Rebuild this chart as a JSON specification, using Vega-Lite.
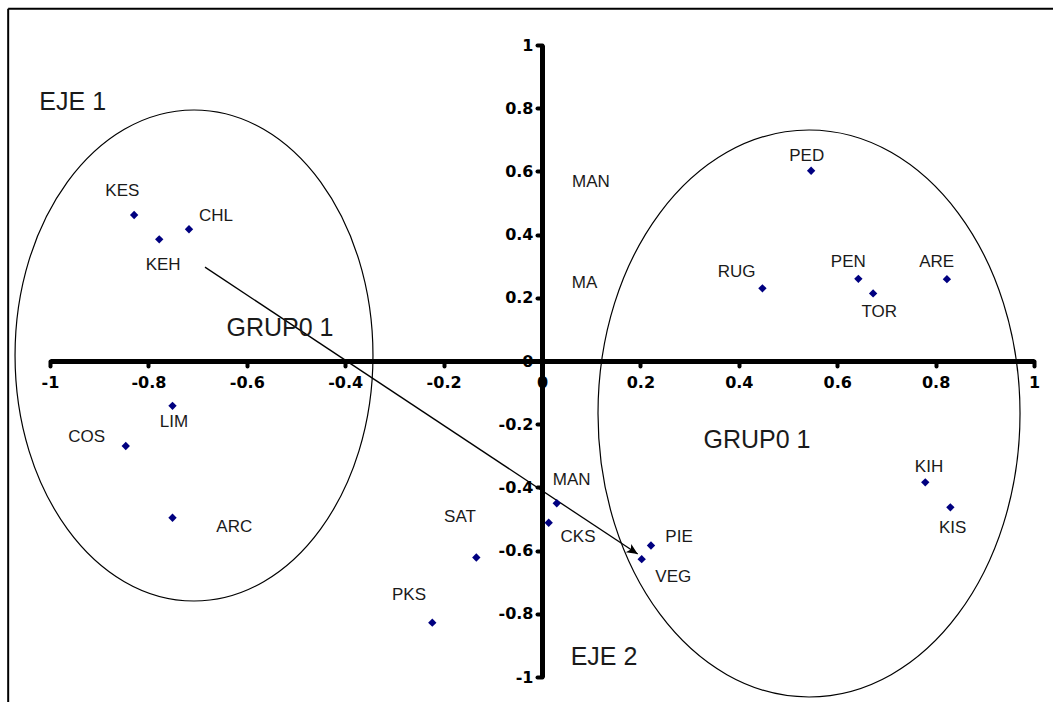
{
  "$schema": "https://vega.github.io/schema/vega-lite/v6.json",
  "width": 984,
  "height": 632,
  "autosize": {"type": "none"},
  "padding": {"left": 50, "top": 45, "right": 19, "bottom": 25},
  "background": "white",
  "config": {"view": {"stroke": null}, "font": "Liberation Sans", "axis": {"labelFontSize": 16, "labelFont": "DejaVu Sans", "labelFontWeight": "bold"}},
  "datasets": {
    "points": [
      {"name": "KES", "x": -0.829, "y": 0.462},
      {"name": "KEH", "x": -0.778, "y": 0.385},
      {"name": "CHL", "x": -0.7175, "y": 0.417},
      {"name": "LIM", "x": -0.751, "y": -0.142},
      {"name": "COS", "x": -0.846, "y": -0.269},
      {"name": "ARC", "x": -0.751, "y": -0.496},
      {"name": "SAT", "x": -0.1335, "y": -0.622},
      {"name": "PKS", "x": -0.223, "y": -0.828},
      {"name": "MAN", "x": 0.03, "y": -0.45},
      {"name": "CKS", "x": 0.0136, "y": -0.512},
      {"name": "PIE", "x": 0.2215, "y": -0.584},
      {"name": "VEG", "x": 0.2026, "y": -0.627},
      {"name": "PED", "x": 0.547, "y": 0.602},
      {"name": "RUG", "x": 0.448, "y": 0.23},
      {"name": "PEN", "x": 0.643, "y": 0.26},
      {"name": "TOR", "x": 0.673, "y": 0.214},
      {"name": "ARE", "x": 0.823, "y": 0.259},
      {"name": "KIH", "x": 0.779, "y": -0.384},
      {"name": "KIS", "x": 0.83, "y": -0.463}
    ],
    "labels": [
      {"text": "KES", "x": -0.853, "y": 0.539},
      {"text": "KEH", "x": -0.77, "y": 0.304},
      {"text": "CHL", "x": -0.6626, "y": 0.459},
      {"text": "LIM", "x": -0.748, "y": -0.192},
      {"text": "COS", "x": -0.9254, "y": -0.2396},
      {"text": "ARC", "x": -0.6254, "y": -0.5263},
      {"text": "SAT", "x": -0.1667, "y": -0.4946},
      {"text": "PKS", "x": -0.2703, "y": -0.7405},
      {"text": "MAN", "x": 0.0604, "y": -0.3766},
      {"text": "CKS", "x": 0.0732, "y": -0.558},
      {"text": "PIE", "x": 0.2785, "y": -0.558},
      {"text": "VEG", "x": 0.2669, "y": -0.6826},
      {"text": "PED", "x": 0.538, "y": 0.6497},
      {"text": "RUG", "x": 0.3957, "y": 0.2826},
      {"text": "PEN", "x": 0.6226, "y": 0.3142},
      {"text": "TOR", "x": 0.6856, "y": 0.1541},
      {"text": "ARE", "x": 0.8022, "y": 0.3142},
      {"text": "KIH", "x": 0.7866, "y": -0.3345},
      {"text": "KIS", "x": 0.8348, "y": -0.5275},
      {"text": "MAN", "x": 0.0996, "y": 0.566},
      {"text": "MA", "x": 0.0864, "y": 0.2453}
    ],
    "titles": [
      {"text": "EJE 1", "x": -0.9539, "y": 0.8206},
      {"text": "EJE 2", "x": 0.126, "y": -0.9358},
      {"text": "GRUP0 1", "x": -0.5325, "y": 0.1044},
      {"text": "GRUP0 1", "x": 0.437, "y": -0.25}
    ],
    "ellipses": [
      {"group": "left", "x": -0.7073, "y": 0.0174},
      {"group": "right", "x": 0.5427, "y": -0.1661}
    ],
    "arrow": [
      {"x": 0.1945, "y": -0.611, "x2": -0.685, "y2": 0.297}
    ],
    "frame": [
      {"x": -1.085, "y": 1.1149, "x2": 1.06, "y2": 1.1149},
      {"x": -1.085, "y": 1.1149, "x2": -1.085, "y2": -1.1}
    ]
  },
  "encoding": {
    "x": {
      "field": "x",
      "type": "quantitative",
      "scale": {"domain": [-1, 1], "nice": false, "zero": false},
      "axis": {
        "title": null,
        "orient": "bottom",
        "offset": -316,
        "values": [-1, -0.8, -0.6, -0.4, -0.2, 0, 0.2, 0.4, 0.6, 0.8, 1],
        "grid": false,
        "domainColor": "black",
        "domainWidth": 5,
        "tickColor": "black",
        "tickWidth": 4,
        "tickSize": 5,
        "tickCap": "round",
        "labelFont": "DejaVu Sans",
        "labelFontWeight": "bold",
        "labelFontSize": 16,
        "labelColor": "black",
        "labelPadding": 8,
        "labelOverlap": false,
        "labelFlush": false,
        "labelBound": false,
        "labelExpr": "(datum.value < 0 ? '-' : '') + format(abs(datum.value), '~g')"
      }
    },
    "y": {
      "field": "y",
      "type": "quantitative",
      "scale": {"domain": [-1, 1], "nice": false, "zero": false},
      "axis": {
        "title": null,
        "orient": "left",
        "offset": -492,
        "values": [-1, -0.8, -0.6, -0.4, -0.2, 0, 0.2, 0.4, 0.6, 0.8, 1],
        "grid": false,
        "domainColor": "black",
        "domainWidth": 5,
        "tickColor": "black",
        "tickWidth": 4,
        "tickSize": 5,
        "tickCap": "round",
        "labelFont": "DejaVu Sans",
        "labelFontWeight": "bold",
        "labelFontSize": 16,
        "labelColor": "black",
        "labelPadding": 4,
        "labelOverlap": false,
        "labelFlush": false,
        "labelBound": false,
        "labelExpr": "(datum.value < 0 ? '-' : '') + format(abs(datum.value), '~g')"
      }
    }
  },
  "layer": [
    {
      "data": {"name": "frame"},
      "mark": {"type": "rule", "color": "black", "strokeWidth": 2},
      "encoding": {"x2": {"field": "x2"}, "y2": {"field": "y2"}}
    },
    {
      "data": {"name": "ellipses"},
      "transform": [{"filter": "datum.group == 'left'"}],
      "mark": {"type": "point", "shape": "M -0.729 0 A 0.729 1 0 1 0 0.729 0 A 0.729 1 0 1 0 -0.729 0 Z", "size": 241081, "filled": false, "stroke": "black", "strokeWidth": 1.2, "opacity": 1}
    },
    {
      "data": {"name": "ellipses"},
      "transform": [{"filter": "datum.group == 'right'"}],
      "mark": {"type": "point", "shape": "M -0.7443 0 A 0.7443 1 0 1 0 0.7443 0 A 0.7443 1 0 1 0 -0.7443 0 Z", "size": 321489, "filled": false, "stroke": "black", "strokeWidth": 1.2, "opacity": 1}
    },
    {
      "data": {"name": "arrow"},
      "mark": {"type": "rule", "color": "black", "strokeWidth": 1.3},
      "encoding": {"x2": {"field": "x2"}, "y2": {"field": "y2"}}
    },
    {
      "data": {"name": "arrow"},
      "mark": {"type": "point", "shape": "M 0 0 L -1 -0.45 L -0.75 0 L -1 0.45 Z", "size": 484, "angle": 33.5, "filled": true, "color": "black", "opacity": 1, "strokeWidth": 0}
    },
    {
      "data": {"name": "points"},
      "mark": {"type": "point", "shape": "diamond", "filled": true, "color": "#000080", "size": 70, "opacity": 1, "strokeWidth": 0}
    },
    {
      "data": {"name": "labels"},
      "mark": {"type": "text", "font": "Liberation Sans", "fontSize": 17, "color": "#1a1a1a", "align": "center", "baseline": "middle"},
      "encoding": {"text": {"field": "text"}}
    },
    {
      "data": {"name": "titles"},
      "mark": {"type": "text", "font": "Liberation Sans", "fontSize": 25, "color": "#1a1a1a", "align": "center", "baseline": "middle"},
      "encoding": {"text": {"field": "text"}}
    }
  ]
}
